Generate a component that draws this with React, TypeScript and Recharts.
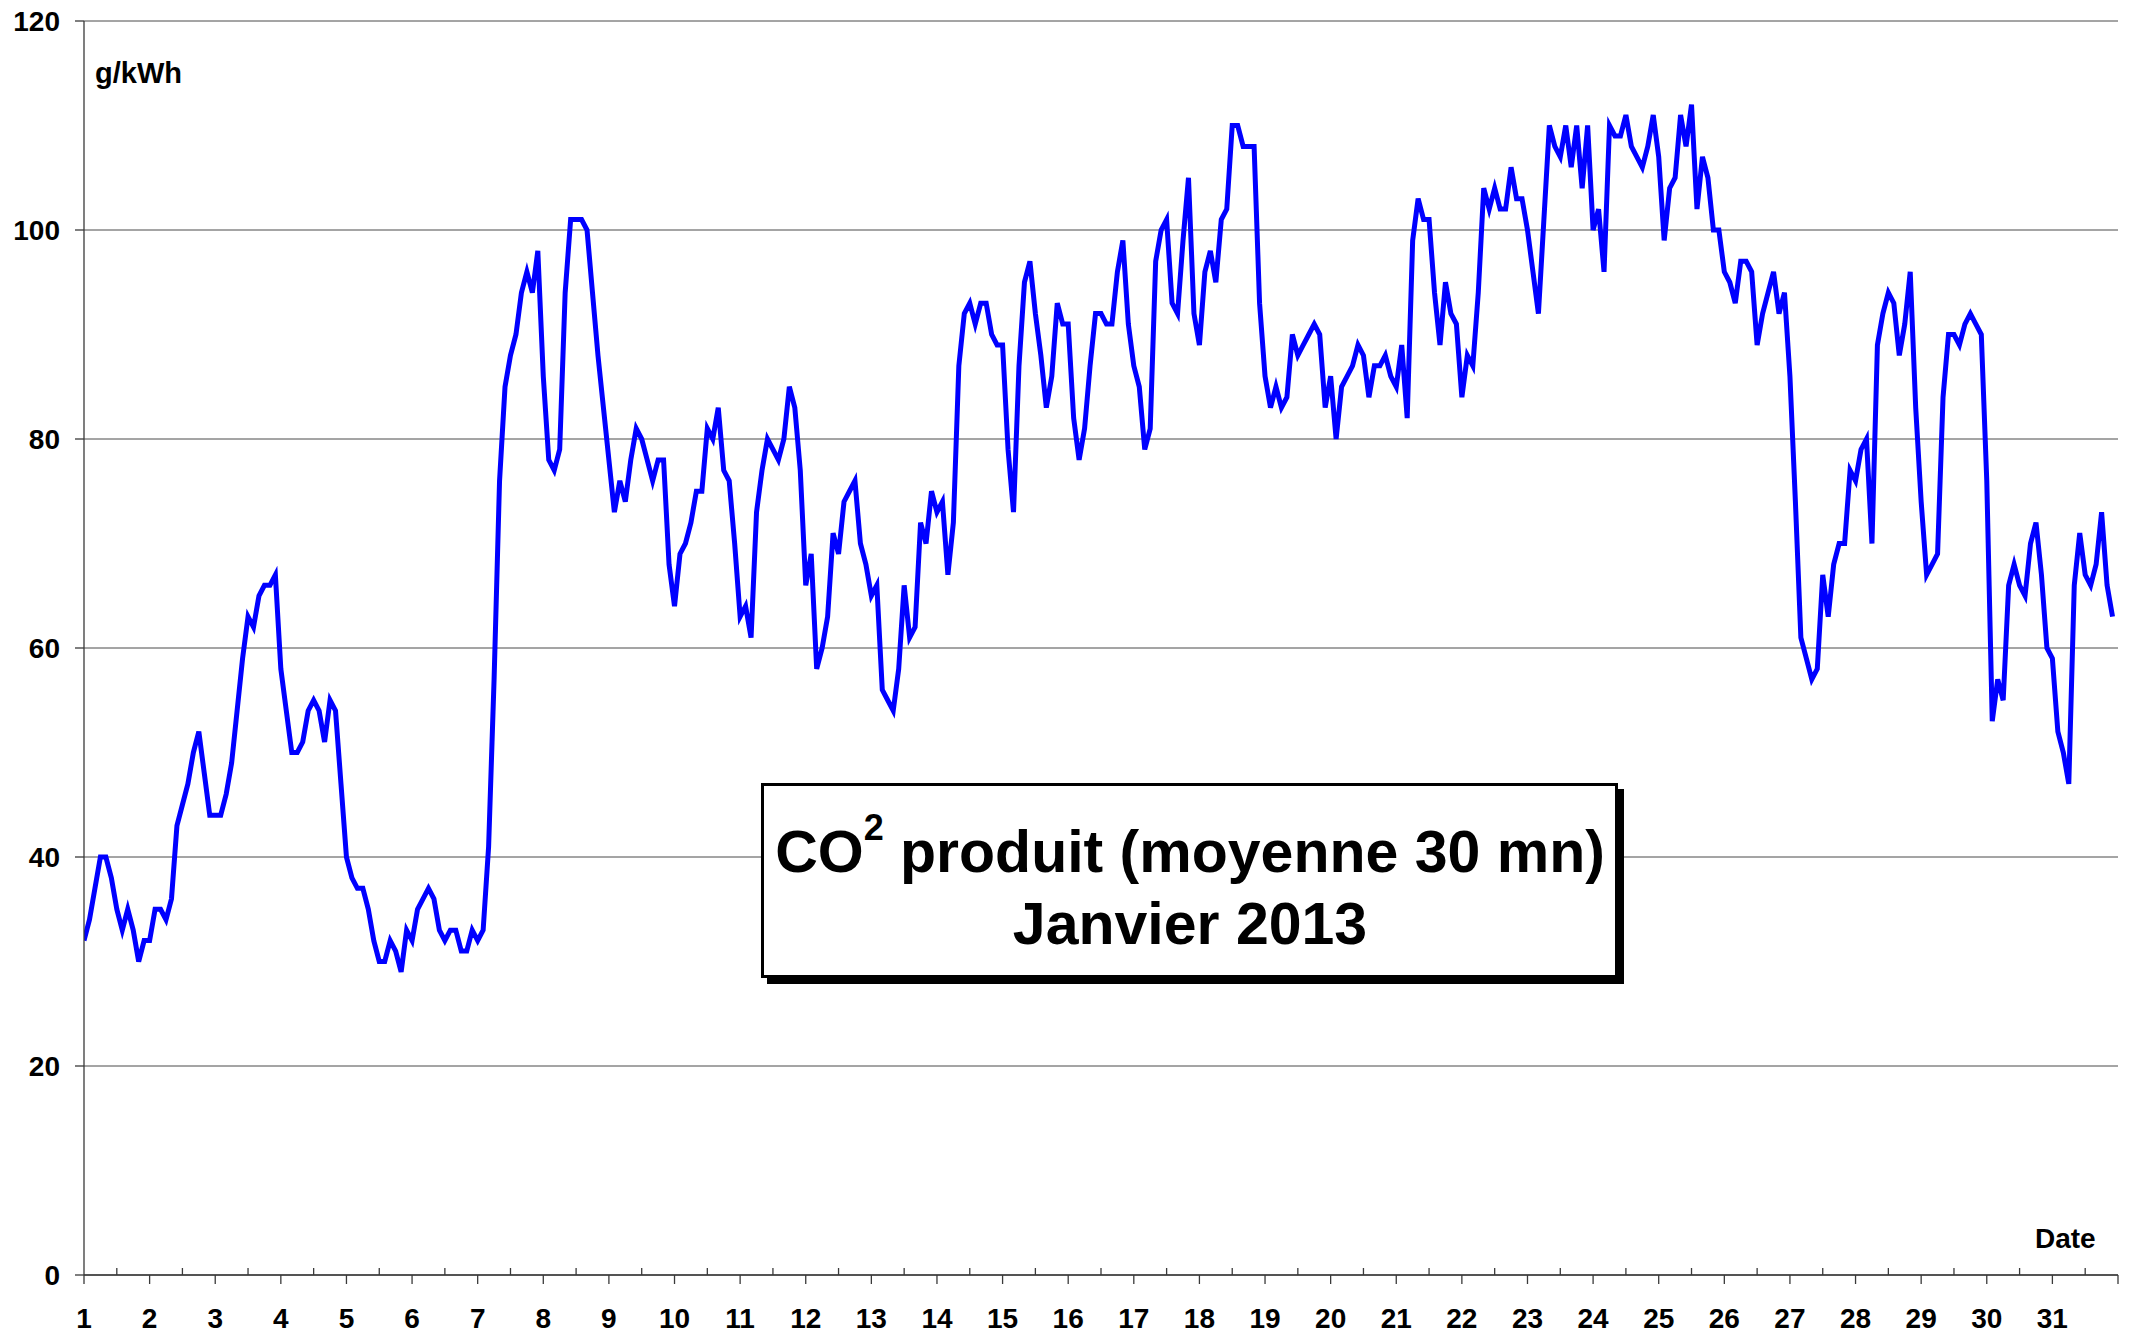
import React from 'react';
import { LineChart, Line, XAxis, YAxis, CartesianGrid } from 'recharts';

// CO2 intensity (g/kWh), read every 2 hours (12 readings per day), January 2013
const week1 = [
  32, 34, 37, 40, 40, 38, 35, 33, 35, 33, 30, 32, // 1
  32, 35, 35, 34, 36, 43, 45, 47, 50, 52, 48, 44, // 2
  44, 44, 46, 49, 54, 59, 63, 62, 65, 66, 66, 67, // 3
  58, 54, 50, 50, 51, 54, 55, 54, 51, 55, 54, 47, // 4
  40, 38, 37, 37, 35, 32, 30, 30, 32, 31, 29, 33, // 5
  32, 35, 36, 37, 36, 33, 32, 33, 33, 31, 31, 33, // 6
  32, 33, 41, 57, 76, 85, 88, 90, 94, 96, 94, 98, // 7
];
const week2 = [
  86, 78, 77, 79, 94, 101, 101, 101, 100, 94, 88, 83, // 8
  78, 73, 76, 74, 78, 81, 80, 78, 76, 78, 78, 68, // 9
  64, 69, 70, 72, 75, 75, 81, 80, 83, 77, 76, 70, // 10
  63, 64, 61, 73, 77, 80, 79, 78, 80, 85, 83, 77, // 11
  66, 69, 58, 60, 63, 71, 69, 74, 75, 76, 70, 68, // 12
  65, 66, 56, 55, 54, 58, 66, 61, 62, 72, 70, 75, // 13
  73, 74, 67, 72, 87, 92, 93, 91, 93, 93, 90, 89, // 14
];
const week3 = [
  89, 79, 73, 87, 95, 97, 92, 88, 83, 86, 93, 91, // 15
  91, 82, 78, 81, 87, 92, 92, 91, 91, 96, 99, 91, // 16
  87, 85, 79, 81, 97, 100, 101, 93, 92, 99, 105, 92, // 17
  89, 96, 98, 95, 101, 102, 110, 110, 108, 108, 108, 93, // 18
  86, 83, 85, 83, 84, 90, 88, 89, 90, 91, 90, 83, // 19
  86, 80, 85, 86, 87, 89, 88, 84, 87, 87, 88, 86, // 20
  85, 89, 82, 99, 103, 101, 101, 94, 89, 95, 92, 91, // 21
];
const week4 = [
  84, 88, 87, 94, 104, 102, 104, 102, 102, 106, 103, 103, // 22
  100, 96, 92, 101, 110, 108, 107, 110, 106, 110, 104, 110, // 23
  100, 102, 96, 110, 109, 109, 111, 108, 107, 106, 108, 111, // 24
  107, 99, 104, 105, 111, 108, 112, 102, 107, 105, 100, 100, // 25
  96, 95, 93, 97, 97, 96, 89, 92, 94, 96, 92, 94, // 26
  86, 74, 61, 59, 57, 58, 67, 63, 68, 70, 70, 77, // 27
  76, 79, 80, 70, 89, 92, 94, 93, 88, 91, 96, 83, // 28
];
const week5 = [
  74, 67, 68, 69, 84, 90, 90, 89, 91, 92, 91, 90, // 29
  76, 53, 57, 55, 66, 68, 66, 65, 70, 72, 67, 60, // 30
  59, 52, 50, 47, 66, 71, 67, 66, 68, 73, 66, 63, // 31
];

const READINGS_PER_DAY = 12;
const yTicks = [0, 20, 40, 60, 80, 100, 120];
const dayLabels = [
  1, 2, 3, 4, 5, 6, 7, 8, 9, 10, 11, 12, 13, 14, 15, 16,
  17, 18, 19, 20, 21, 22, 23, 24, 25, 26, 27, 28, 29, 30, 31,
];
const titleLine1 = 'CO';
const titleSup = '2';
const titleLine1Rest = ' produit (moyenne 30 mn)';
const titleLine2 = 'Janvier 2013';
const unitLabel = 'g/kWh';
const xAxisName = 'Date';

const values = [...week1, ...week2, ...week3, ...week4, ...week5];
const data = values.map((v, i) => ({ t: 1 + i / READINGS_PER_DAY, v }));

const xTicks: number[] = [];
dayLabels.forEach((d) => {
  xTicks.push(d);
  xTicks.push(d + 0.5);
});
xTicks.push(dayLabels[dayLabels.length - 1] + 1);

const FONT = '"Liberation Sans", Arial, Helvetica, sans-serif';
const AXIS = '#3a3a3a';
const GRID = '#4a4a4a';
const X_TICK_SIZE = 9;
const X_TICK_MARGIN = 28;

function DayTick(props: any) {
  const { x, y, payload } = props;
  const v = payload.value as number;
  const axisY = y - X_TICK_SIZE - X_TICK_MARGIN;
  const major = Math.abs(v - Math.round(v)) < 1e-6;
  return (
    <g>
      <line
        x1={x}
        x2={x}
        y1={axisY}
        y2={major ? axisY + 9 : axisY - 7}
        stroke={AXIS}
        strokeWidth={1.3}
      />
      {major && dayLabels.includes(v) ? (
        <text
          x={x}
          y={axisY + 53}
          textAnchor="middle"
          fontFamily={FONT}
          fontWeight={700}
          fontSize={28}
          fill="#000"
        >
          {v}
        </text>
      ) : null}
    </g>
  );
}

export default function App() {
  return (
    <div
      style={{
        position: 'absolute',
        left: 0,
        top: 0,
        width: 2136,
        height: 1335,
        background: '#fff',
        overflow: 'hidden',
      }}
    >
      <LineChart
        width={2136}
        height={1335}
        data={data}
        margin={{ top: 21, right: 18, bottom: 0, left: 24 }}
      >
        <CartesianGrid vertical={false} stroke={GRID} strokeWidth={1} />
        <XAxis
          dataKey="t"
          type="number"
          domain={[1, 32]}
          ticks={xTicks}
          interval={0}
          height={60}
          tickSize={X_TICK_SIZE}
          tickMargin={X_TICK_MARGIN}
          tickLine={false}
          axisLine={{ stroke: AXIS, strokeWidth: 1.3 }}
          tick={(p: any) => <DayTick {...p} />}
          allowDataOverflow
        />
        <YAxis
          type="number"
          domain={[0, 120]}
          ticks={yTicks}
          interval={0}
          width={60}
          tickSize={9}
          tickMargin={15}
          axisLine={{ stroke: AXIS, strokeWidth: 1.3 }}
          tickLine={{ stroke: AXIS, strokeWidth: 1.3 }}
          tick={{ fill: '#000', fontSize: 28, fontWeight: 700, fontFamily: FONT }}
          allowDataOverflow
        />
        <Line
          type="linear"
          dataKey="v"
          stroke="#0000FF"
          strokeWidth={5}
          dot={false}
          activeDot={false}
          isAnimationActive={false}
        />
      </LineChart>
      <svg
        width={2136}
        height={1335}
        style={{ position: 'absolute', left: 0, top: 0, pointerEvents: 'none' }}
      >
        <text x={95} y={83} fontFamily={FONT} fontWeight={700} fontSize={29} fill="#000">
          {unitLabel}
        </text>
        <text x={2035} y={1248} fontFamily={FONT} fontWeight={700} fontSize={28} fill="#000">
          {xAxisName}
        </text>
        <rect x={767} y={789} width={857} height={195} fill="#000" />
        <rect
          x={762.5}
          y={784.5}
          width={854}
          height={192}
          fill="#fff"
          stroke="#000"
          strokeWidth={3}
        />
        <text
          x={1190}
          y={872}
          textAnchor="middle"
          fontFamily={FONT}
          fontWeight={700}
          fontSize={59}
          fill="#000"
        >
          {titleLine1}
          <tspan fontSize={36} dy={-32}>
            {titleSup}
          </tspan>
          <tspan fontSize={59} dy={32}>
            {titleLine1Rest}
          </tspan>
        </text>
        <text
          x={1190}
          y={944}
          textAnchor="middle"
          fontFamily={FONT}
          fontWeight={700}
          fontSize={59}
          fill="#000"
        >
          {titleLine2}
        </text>
      </svg>
    </div>
  );
}
